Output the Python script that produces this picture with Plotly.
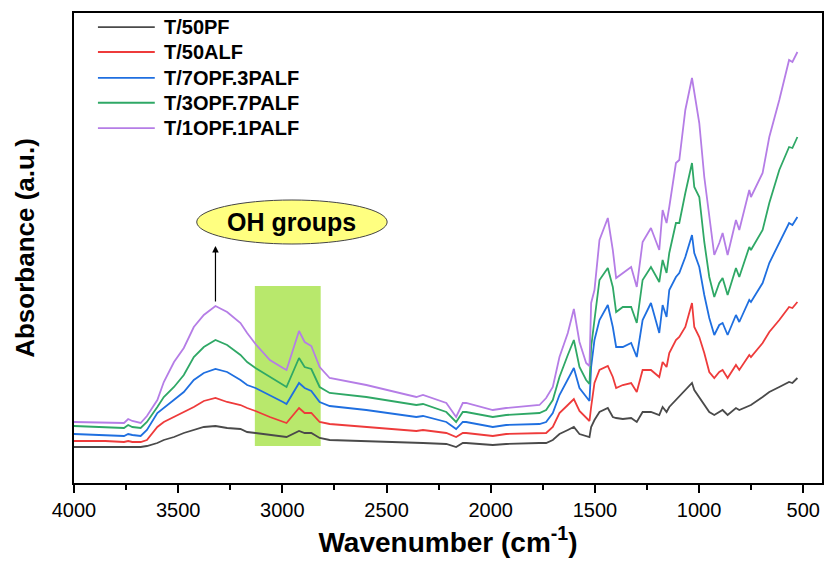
import plotly.graph_objects as go

# FTIR spectra (absorbance, arbitrary units, stacked as recorded)
wavenumber = [4000, 3850, 3760, 3740, 3720, 3680, 3650, 3600, 3569, 3520, 3473, 3425, 3377,
              3321, 3265, 3201, 3169, 3129,
              3060, 2997, 2980, 2920, 2893, 2861, 2821, 2773, 2597, 2357, 2325, 2213, 2166,
              2134, 2118, 1990, 1926, 1766, 1734, 1702, 1670, 1630, 1601, 1574, 1542, 1526,
              1518, 1502, 1478, 1438, 1414, 1398, 1366, 1326, 1299, 1271, 1231, 1191, 1175,
              1156, 1143, 1111, 1095, 1066, 1034, 1023, 999, 975, 951, 927, 903, 887, 863,
              823, 807, 759, 751, 695, 663, 615, 568, 552, 528]

t50pf = [0.36, 0.36, 0.36, 0.36, 0.36, 0.36, 0.37, 0.40, 0.43, 0.46, 0.50, 0.53, 0.56,
         0.57, 0.55, 0.54, 0.51, 0.50,
         0.48, 0.46, 0.46, 0.52, 0.50, 0.50, 0.45, 0.43, 0.42, 0.40, 0.40, 0.39, 0.36,
         0.40, 0.40, 0.38, 0.39, 0.40, 0.40, 0.43, 0.49, 0.53, 0.56, 0.49, 0.47, 0.46,
         0.56, 0.63, 0.71, 0.75, 0.66, 0.65, 0.64, 0.65, 0.61, 0.71, 0.71, 0.68, 0.76,
         0.71, 0.76, 0.83, 0.86, 0.93, 1.00, 0.93, 0.86, 0.78, 0.71, 0.68, 0.71, 0.73, 0.68,
         0.75, 0.73, 0.78, 0.78, 0.86, 0.91, 0.96, 1.01, 1.00, 1.05]

t50alf = [0.42, 0.42, 0.41, 0.42, 0.41, 0.41, 0.43, 0.56, 0.61, 0.66, 0.71, 0.76, 0.82,
          0.85, 0.81, 0.78, 0.75, 0.72,
          0.66, 0.61, 0.60, 0.75, 0.70, 0.70, 0.61, 0.59, 0.56, 0.52, 0.53, 0.50, 0.46,
          0.50, 0.50, 0.47, 0.49, 0.50, 0.50, 0.56, 0.70, 0.78, 0.84, 0.72, 0.65, 0.62,
          0.76, 1.00, 1.13, 1.17, 1.06, 0.95, 0.98, 1.00, 0.91, 1.13, 1.13, 1.06, 1.21,
          1.16, 1.30, 1.43, 1.46, 1.56, 1.80, 1.56, 1.46, 1.30, 1.11, 1.05, 1.11, 1.13, 1.05,
          1.18, 1.13, 1.28, 1.26, 1.40, 1.51, 1.63, 1.76, 1.75, 1.81]

t70pf_30palf = [0.49, 0.48, 0.47, 0.49, 0.48, 0.47, 0.53, 0.70, 0.75, 0.83, 0.91, 1.03, 1.10,
                1.14, 1.11, 1.03, 0.98, 0.95,
                0.88, 0.81, 0.79, 1.00, 0.95, 0.92, 0.81, 0.77, 0.73, 0.66, 0.67, 0.61, 0.54,
                0.61, 0.61, 0.56, 0.58, 0.59, 0.61, 0.70, 0.88, 1.03, 1.15, 0.95, 0.86, 0.82,
                1.16, 1.43, 1.63, 1.78, 1.56, 1.36, 1.36, 1.40, 1.26, 1.63, 1.80, 1.50, 1.78,
                1.66, 1.93, 2.06, 2.10, 2.26, 2.48, 2.30, 2.16, 1.88, 1.65, 1.48, 1.58, 1.60, 1.48,
                1.68, 1.61, 1.83, 1.81, 2.00, 2.20, 2.40, 2.60, 2.58, 2.66]

t30pf_70palf = [0.57, 0.56, 0.55, 0.58, 0.56, 0.55, 0.61, 0.76, 0.86, 0.96, 1.08, 1.26, 1.36,
                1.43, 1.38, 1.28, 1.21, 1.15,
                1.06, 0.98, 0.96, 1.25, 1.16, 1.14, 0.96, 0.90, 0.86, 0.78, 0.79, 0.71, 0.61,
                0.71, 0.71, 0.66, 0.68, 0.70, 0.73, 0.83, 1.06, 1.28, 1.43, 1.16, 1.03, 0.99,
                1.36, 1.63, 2.03, 2.15, 1.96, 1.71, 1.76, 1.76, 1.60, 2.03, 2.16, 2.01, 2.23,
                2.10, 2.30, 2.60, 2.60, 2.90, 3.20, 2.96, 2.86, 2.41, 2.06, 1.86, 2.00, 2.05, 1.88,
                2.15, 2.06, 2.36, 2.33, 2.53, 2.80, 3.13, 3.36, 3.35, 3.46]

t10pf_10palf = [0.61, 0.60, 0.60, 0.64, 0.62, 0.60, 0.67, 0.83, 1.01, 1.21, 1.35, 1.56, 1.68,
                1.77, 1.71, 1.60, 1.50, 1.39,
                1.23, 1.15, 1.13, 1.52, 1.41, 1.37, 1.16, 1.05, 0.98, 0.86, 0.88, 0.80, 0.66,
                0.80, 0.80, 0.73, 0.75, 0.78, 0.85, 0.96, 1.26, 1.50, 1.74, 1.41, 1.20, 1.17,
                1.80, 1.93, 2.43, 2.65, 2.33, 2.05, 2.10, 2.16, 1.96, 2.41, 2.55, 2.33, 2.73,
                2.60, 2.76, 3.20, 3.23, 3.73, 4.05, 3.90, 3.60, 3.06, 2.68, 2.28, 2.40, 2.50, 2.28,
                2.63, 2.53, 2.93, 2.86, 3.10, 3.46, 3.83, 4.23, 4.21, 4.31]

series_names = ["T/50PF", "T/50ALF", "T/7OPF.3PALF", "T/3OPF.7PALF", "T/1OPF.1PALF"]
series_values = [t50pf, t50alf, t70pf_30palf, t30pf_70palf, t10pf_10palf]
series_colors = ["#4a4a4a", "#ee3b3b", "#1f6fe0", "#2fa866", "#b57de6"]

x_ticks = [4000, 3500, 3000, 2500, 2000, 1500, 1000, 500]

# highlighted C-H stretching band
band_range = [3132, 2816]
band_level = [0.37, 1.97]

# OH annotation
oh_peak = 3321
oh_label = "OH groups"

FONT = "Liberation Sans, Arial, sans-serif"

fig = go.Figure()

for name, vals, col in zip(series_names, series_values, series_colors):
    fig.add_trace(go.Scatter(x=wavenumber, y=vals, mode="lines", name=name,
                             line=dict(color=col, width=1.8), showlegend=False))

# shaded band behind the traces
fig.add_shape(type="rect", xref="x", yref="y",
              x0=band_range[0], x1=band_range[1], y0=band_level[0], y1=band_level[1],
              fillcolor="#b8e86c", line=dict(width=0), layer="below")

# ellipse label and arrow for the O-H band
peak_val = t10pf_10palf[wavenumber.index(oh_peak)]
fig.add_shape(type="circle", xref="x", yref="y",
              x0=3411, x1=2497, y0=2.39, y1=2.83,
              fillcolor="#ffff80", line=dict(color="#444444", width=1), layer="above")
fig.add_annotation(x=2954, y=2.61, xref="x", yref="y", text=oh_label, showarrow=False,
                   font=dict(family=FONT, size=25, color="black", weight="bold"))
fig.add_annotation(x=oh_peak, y=2.37, ax=oh_peak, ay=peak_val + 0.03,
                   xref="x", yref="y", axref="x", ayref="y", text="",
                   showarrow=True, arrowhead=2, arrowsize=1.1, arrowwidth=1.2,
                   arrowcolor="black")

# legend: sample lines with labels
row_y = [0.970, 0.917, 0.862, 0.809, 0.755]
for name, col, yy in zip(series_names, series_colors, row_y):
    fig.add_shape(type="line", xref="paper", yref="paper",
                  x0=0.032, x1=0.108, y0=yy, y1=yy, line=dict(color=col, width=1.8))
    fig.add_annotation(x=0.118, y=yy, xref="paper", yref="paper", text=name,
                       showarrow=False, xanchor="left", yanchor="middle",
                       font=dict(family=FONT, size=20, color="black", weight="bold"))

fig.update_layout(
    width=827, height=562,
    margin=dict(l=74, r=3, t=13, b=79),
    paper_bgcolor="white", plot_bgcolor="white",
    showlegend=False,
    font=dict(family=FONT, color="black"),
)
fig.update_xaxes(
    range=[4000, 410], tickvals=x_ticks, ticktext=[str(v) for v in x_ticks],
    showline=True, linecolor="black", linewidth=2, mirror=True,
    ticks="outside", ticklen=8, tickwidth=2, tickcolor="black",
    minor=dict(dtick=250, ticks="outside", ticklen=5, tickwidth=2, tickcolor="black",
               tick0=4000),
    showgrid=False, zeroline=False,
    tickfont=dict(family=FONT, size=20),
    title=dict(text="Wavenumber (cm<sup>-1</sup>)", standoff=12,
               font=dict(family=FONT, size=28, weight="bold")),
)
fig.update_yaxes(
    range=[0, 4.70], showticklabels=False, ticks="",
    showline=True, linecolor="black", linewidth=2, mirror=True,
    showgrid=False, zeroline=False,
    title=dict(text="Absorbance (a.u.)", standoff=30,
               font=dict(family=FONT, size=26, weight="bold")),
)

fig.write_html("out.html")
